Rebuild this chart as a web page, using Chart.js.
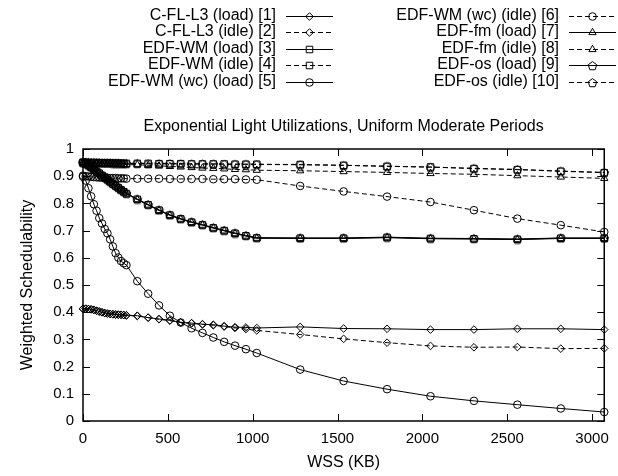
<!DOCTYPE html>
<html>
<head>
<meta charset="utf-8">
<title>Weighted Schedulability</title>
<script src="https://cdn.jsdelivr.net/npm/chart.js"></script>
<style>
  html, body { margin: 0; padding: 0; background: #fff; }
  canvas { display: block; }
</style>
</head>
<body>
<canvas id="chart" width="618" height="476"></canvas>
<script>
// --- data ---
const wss = [0, 16, 32, 48, 64, 80, 96, 112, 128, 144, 160, 176, 192, 208, 224, 240, 256,
  320, 384, 448, 512, 576, 640, 704, 768, 832, 896, 960, 1024,
  1280, 1536, 1792, 2048, 2304, 2560, 2816, 3072];

const cfl3Load = [0.413, 0.413, 0.412, 0.411, 0.409, 0.406, 0.403, 0.400, 0.397, 0.395, 0.394, 0.393, 0.392, 0.391, 0.391, 0.390, 0.389,
  0.387, 0.380, 0.375, 0.370, 0.363, 0.360, 0.356, 0.354, 0.349, 0.345, 0.344, 0.342,
  0.346, 0.340, 0.339, 0.336, 0.336, 0.339, 0.339, 0.336];
const cfl3Idle = [0.412, 0.413, 0.411, 0.410, 0.408, 0.405, 0.402, 0.399, 0.397, 0.395, 0.393, 0.392, 0.391, 0.391, 0.390, 0.389, 0.388,
  0.386, 0.380, 0.374, 0.369, 0.362, 0.359, 0.355, 0.352, 0.347, 0.342, 0.338, 0.333,
  0.318, 0.302, 0.288, 0.276, 0.271, 0.272, 0.266, 0.267];
const wmLoad = [0.950, 0.946, 0.940, 0.933, 0.926, 0.918, 0.911, 0.903, 0.896, 0.888, 0.880, 0.872, 0.865, 0.858, 0.850, 0.843, 0.836,
  0.815, 0.795, 0.775, 0.757, 0.743, 0.731, 0.721, 0.710, 0.700, 0.690, 0.681, 0.673,
  0.672, 0.672, 0.675, 0.671, 0.670, 0.668, 0.672, 0.672];
const wmIdle = [0.951, 0.951, 0.950, 0.950, 0.950, 0.950, 0.949, 0.949, 0.949, 0.949, 0.948, 0.948, 0.948, 0.948, 0.948, 0.947, 0.947,
  0.947, 0.947, 0.946, 0.946, 0.946, 0.945, 0.945, 0.945, 0.945, 0.944, 0.944, 0.944,
  0.943, 0.940, 0.936, 0.934, 0.928, 0.924, 0.918, 0.913];
const wmWcLoad = [0.898, 0.884, 0.856, 0.826, 0.797, 0.773, 0.746, 0.726, 0.706, 0.690, 0.668, 0.642, 0.617, 0.601, 0.588, 0.580, 0.573,
  0.514, 0.468, 0.425, 0.387, 0.362, 0.341, 0.324, 0.307, 0.291, 0.277, 0.264, 0.250,
  0.189, 0.147, 0.117, 0.091, 0.074, 0.060, 0.046, 0.033];
const wmWcIdle = [0.902, 0.900, 0.899, 0.898, 0.897, 0.896, 0.895, 0.895, 0.894, 0.894, 0.893, 0.893, 0.893, 0.892, 0.892, 0.892, 0.891,
  0.891, 0.891, 0.891, 0.890, 0.890, 0.890, 0.890, 0.889, 0.889, 0.889, 0.888, 0.887,
  0.864, 0.844, 0.825, 0.805, 0.775, 0.744, 0.720, 0.695];
const fmLoad = [0.949, 0.945, 0.939, 0.932, 0.925, 0.917, 0.910, 0.902, 0.895, 0.887, 0.879, 0.871, 0.864, 0.857, 0.849, 0.842, 0.835,
  0.814, 0.794, 0.774, 0.756, 0.742, 0.730, 0.720, 0.709, 0.699, 0.689, 0.680, 0.672,
  0.671, 0.671, 0.674, 0.670, 0.669, 0.667, 0.671, 0.671];
const fmIdle = [0.950, 0.950, 0.949, 0.949, 0.948, 0.948, 0.947, 0.947, 0.947, 0.946, 0.946, 0.945, 0.945, 0.945, 0.944, 0.944, 0.943,
  0.942, 0.940, 0.938, 0.936, 0.934, 0.932, 0.930, 0.929, 0.927, 0.925, 0.924, 0.922,
  0.920, 0.917, 0.914, 0.910, 0.907, 0.902, 0.897, 0.892];
const osLoad = [0.951, 0.947, 0.941, 0.934, 0.927, 0.919, 0.912, 0.904, 0.897, 0.889, 0.881, 0.873, 0.866, 0.859, 0.851, 0.844, 0.837,
  0.816, 0.796, 0.776, 0.758, 0.744, 0.732, 0.722, 0.711, 0.701, 0.691, 0.682, 0.674,
  0.673, 0.673, 0.676, 0.672, 0.671, 0.669, 0.673, 0.673];
const osIdle = [0.952, 0.951, 0.951, 0.950, 0.950, 0.950, 0.950, 0.949, 0.949, 0.949, 0.949, 0.948, 0.948, 0.948, 0.947, 0.947, 0.947,
  0.947, 0.946, 0.946, 0.946, 0.945, 0.945, 0.945, 0.945, 0.944, 0.944, 0.944, 0.943,
  0.942, 0.940, 0.937, 0.933, 0.929, 0.925, 0.919, 0.914];

const xTicks = [0, 500, 1000, 1500, 2000, 2500, 3000];

const FONT = '"Liberation Sans", Arial, Helvetica, sans-serif';
const DASH = [5, 3];
const TITLE = 'Exponential Light Utilizations, Uniform Moderate Periods';

// open pentagon marker (Chart.js has no pentagon point style)
function pentagonMark(size) {
  const c = document.createElement('canvas');
  c.width = c.height = size;
  const g = c.getContext('2d');
  const r = size / 2 - 1;
  g.beginPath();
  for (let k = 0; k < 5; k++) {
    const a = -Math.PI / 2 + k * 2 * Math.PI / 5;
    const px = size / 2 + r * Math.cos(a);
    const py = size / 2 + 0.6 + r * Math.sin(a);
    if (k) g.lineTo(px, py); else g.moveTo(px, py);
  }
  g.closePath();
  g.lineWidth = 1;
  g.strokeStyle = '#000';
  g.stroke();
  return c;
}
const pentagon = pentagonMark(11);

function series(label, values, dashed, style, radius) {
  return {
    label: label,
    data: wss.map((x, i) => ({ x: x, y: values[i] })),
    borderColor: '#000',
    borderWidth: 1,
    borderDash: dashed ? DASH : [],
    pointStyle: style,
    pointRadius: radius,
    pointBorderColor: '#000',
    pointBackgroundColor: 'rgba(0,0,0,0)',
    pointBorderWidth: 1,
    fill: false,
    tension: 0,
    clip: false
  };
}

const datasets = [
  series('C-FL-L3 (load) [1]', cfl3Load, false, 'rectRot', 3.8),
  series('C-FL-L3 (idle) [2]', cfl3Idle, true, 'rectRot', 3.8),
  series('EDF-WM (load) [3]', wmLoad, false, 'rect', 4.6),
  series('EDF-WM (idle) [4]', wmIdle, true, 'rect', 4.6),
  series('EDF-WM (wc) (load) [5]', wmWcLoad, false, 'circle', 3.8),
  series('EDF-WM (wc) (idle) [6]', wmWcIdle, true, 'circle', 3.8),
  series('EDF-fm (load) [7]', fmLoad, false, 'triangle', 4.2),
  series('EDF-fm (idle) [8]', fmIdle, true, 'triangle', 4.2),
  series('EDF-os (load) [9]', osLoad, false, pentagon, 4),
  series('EDF-os (idle) [10]', osIdle, true, pentagon, 4)
];

// key in two columns above the plot (label, then line sample with marker) and the title
const keyBox = {
  id: 'keyBox',
  afterDraw(chart) {
    const ctx = chart.ctx;
    const a = chart.chartArea;
    ctx.save();
    ctx.font = '16px ' + FONT;
    ctx.textBaseline = 'middle';
    ctx.fillStyle = '#000';
    ctx.textAlign = 'center';
    ctx.fillText(TITLE, (a.left + a.right) / 2, 127);
    ctx.textAlign = 'right';
    chart.data.datasets.forEach((ds, i) => {
      const col = i < 5 ? 0 : 1;
      const row = i % 5;
      const textRight = col ? 559 : 276;
      const y = 15.5 + row * 16.5;
      ctx.fillStyle = '#000';
      ctx.fillText(ds.label, textRight, y);
      const x0 = textRight + 10, x1 = x0 + 47;
      const yy = Math.round(y) + 0.5;
      ctx.beginPath();
      ctx.setLineDash(ds.borderDash);
      ctx.lineWidth = 1;
      ctx.strokeStyle = '#000';
      ctx.moveTo(x0, yy);
      ctx.lineTo(x1, yy);
      ctx.stroke();
      ctx.setLineDash([]);
      ctx.fillStyle = 'rgba(0,0,0,0)';
      Chart.helpers.drawPoint(ctx, {
        pointStyle: ds.pointStyle, radius: ds.pointRadius, rotation: 0, borderWidth: 1
      }, x0 + 23.5, yy);
    });
    ctx.restore();
  }
};

// plot border with inward ticks on all four sides
const frame = {
  id: 'frame',
  afterDraw(chart) {
    const { ctx, chartArea: a, scales } = chart;
    const len = 7;
    ctx.save();
    ctx.strokeStyle = '#000';
    ctx.lineWidth = 1;
    ctx.beginPath();
    scales.x.ticks.forEach(t => {
      const px = Math.round(scales.x.getPixelForValue(t.value)) + 0.5;
      ctx.moveTo(px, a.bottom); ctx.lineTo(px, a.bottom - len);
      ctx.moveTo(px, a.top); ctx.lineTo(px, a.top + len);
    });
    scales.y.ticks.forEach(t => {
      const py = Math.round(scales.y.getPixelForValue(t.value)) + 0.5;
      ctx.moveTo(a.left, py); ctx.lineTo(a.left + len, py);
      ctx.moveTo(a.right, py); ctx.lineTo(a.right - len, py);
    });
    ctx.stroke();
    ctx.lineWidth = 1.5;
    ctx.strokeRect(a.left, a.top, a.right - a.left, a.bottom - a.top);
    ctx.restore();
  }
};

new Chart(document.getElementById('chart'), {
  type: 'line',
  data: { datasets: datasets },
  plugins: [keyBox, frame],
  options: {
    responsive: false,
    animation: false,
    events: [],
    layout: { padding: { top: 149, right: 12, left: 0, bottom: 0 } },
    plugins: {
      legend: { display: false },
      tooltip: { enabled: false },
      title: { display: false }
    },
    scales: {
      x: {
        type: 'linear',
        min: 0,
        max: 3072,
        afterBuildTicks(scale) {
          scale.ticks = xTicks.map(v => ({ value: v }));
        },
        afterFit(scale) { scale.height = 55; },
        grid: { display: false, drawTicks: false },
        border: { display: false },
        ticks: {
          color: '#000',
          font: { family: FONT, size: 15 },
          padding: 9,
          maxRotation: 0,
          autoSkip: false,
          callback: v => String(v)
        },
        title: {
          display: true,
          text: 'WSS (KB)',
          color: '#000',
          font: { family: FONT, size: 16 },
          padding: { top: 0, bottom: 4 }
        }
      },
      y: {
        min: 0,
        max: 1,
        afterFit(scale) { scale.width = 83; },
        grid: { display: false, drawTicks: false },
        border: { display: false },
        ticks: {
          stepSize: 0.1,
          color: '#000',
          font: { family: FONT, size: 15 },
          padding: 9,
          callback: v => String(Math.round(v * 10) / 10)
        },
        title: {
          display: true,
          text: 'Weighted Schedulability',
          color: '#000',
          font: { family: FONT, size: 16 },
          padding: { top: 18, bottom: 0 }
        }
      }
    }
  }
});
</script>
</body>
</html>
